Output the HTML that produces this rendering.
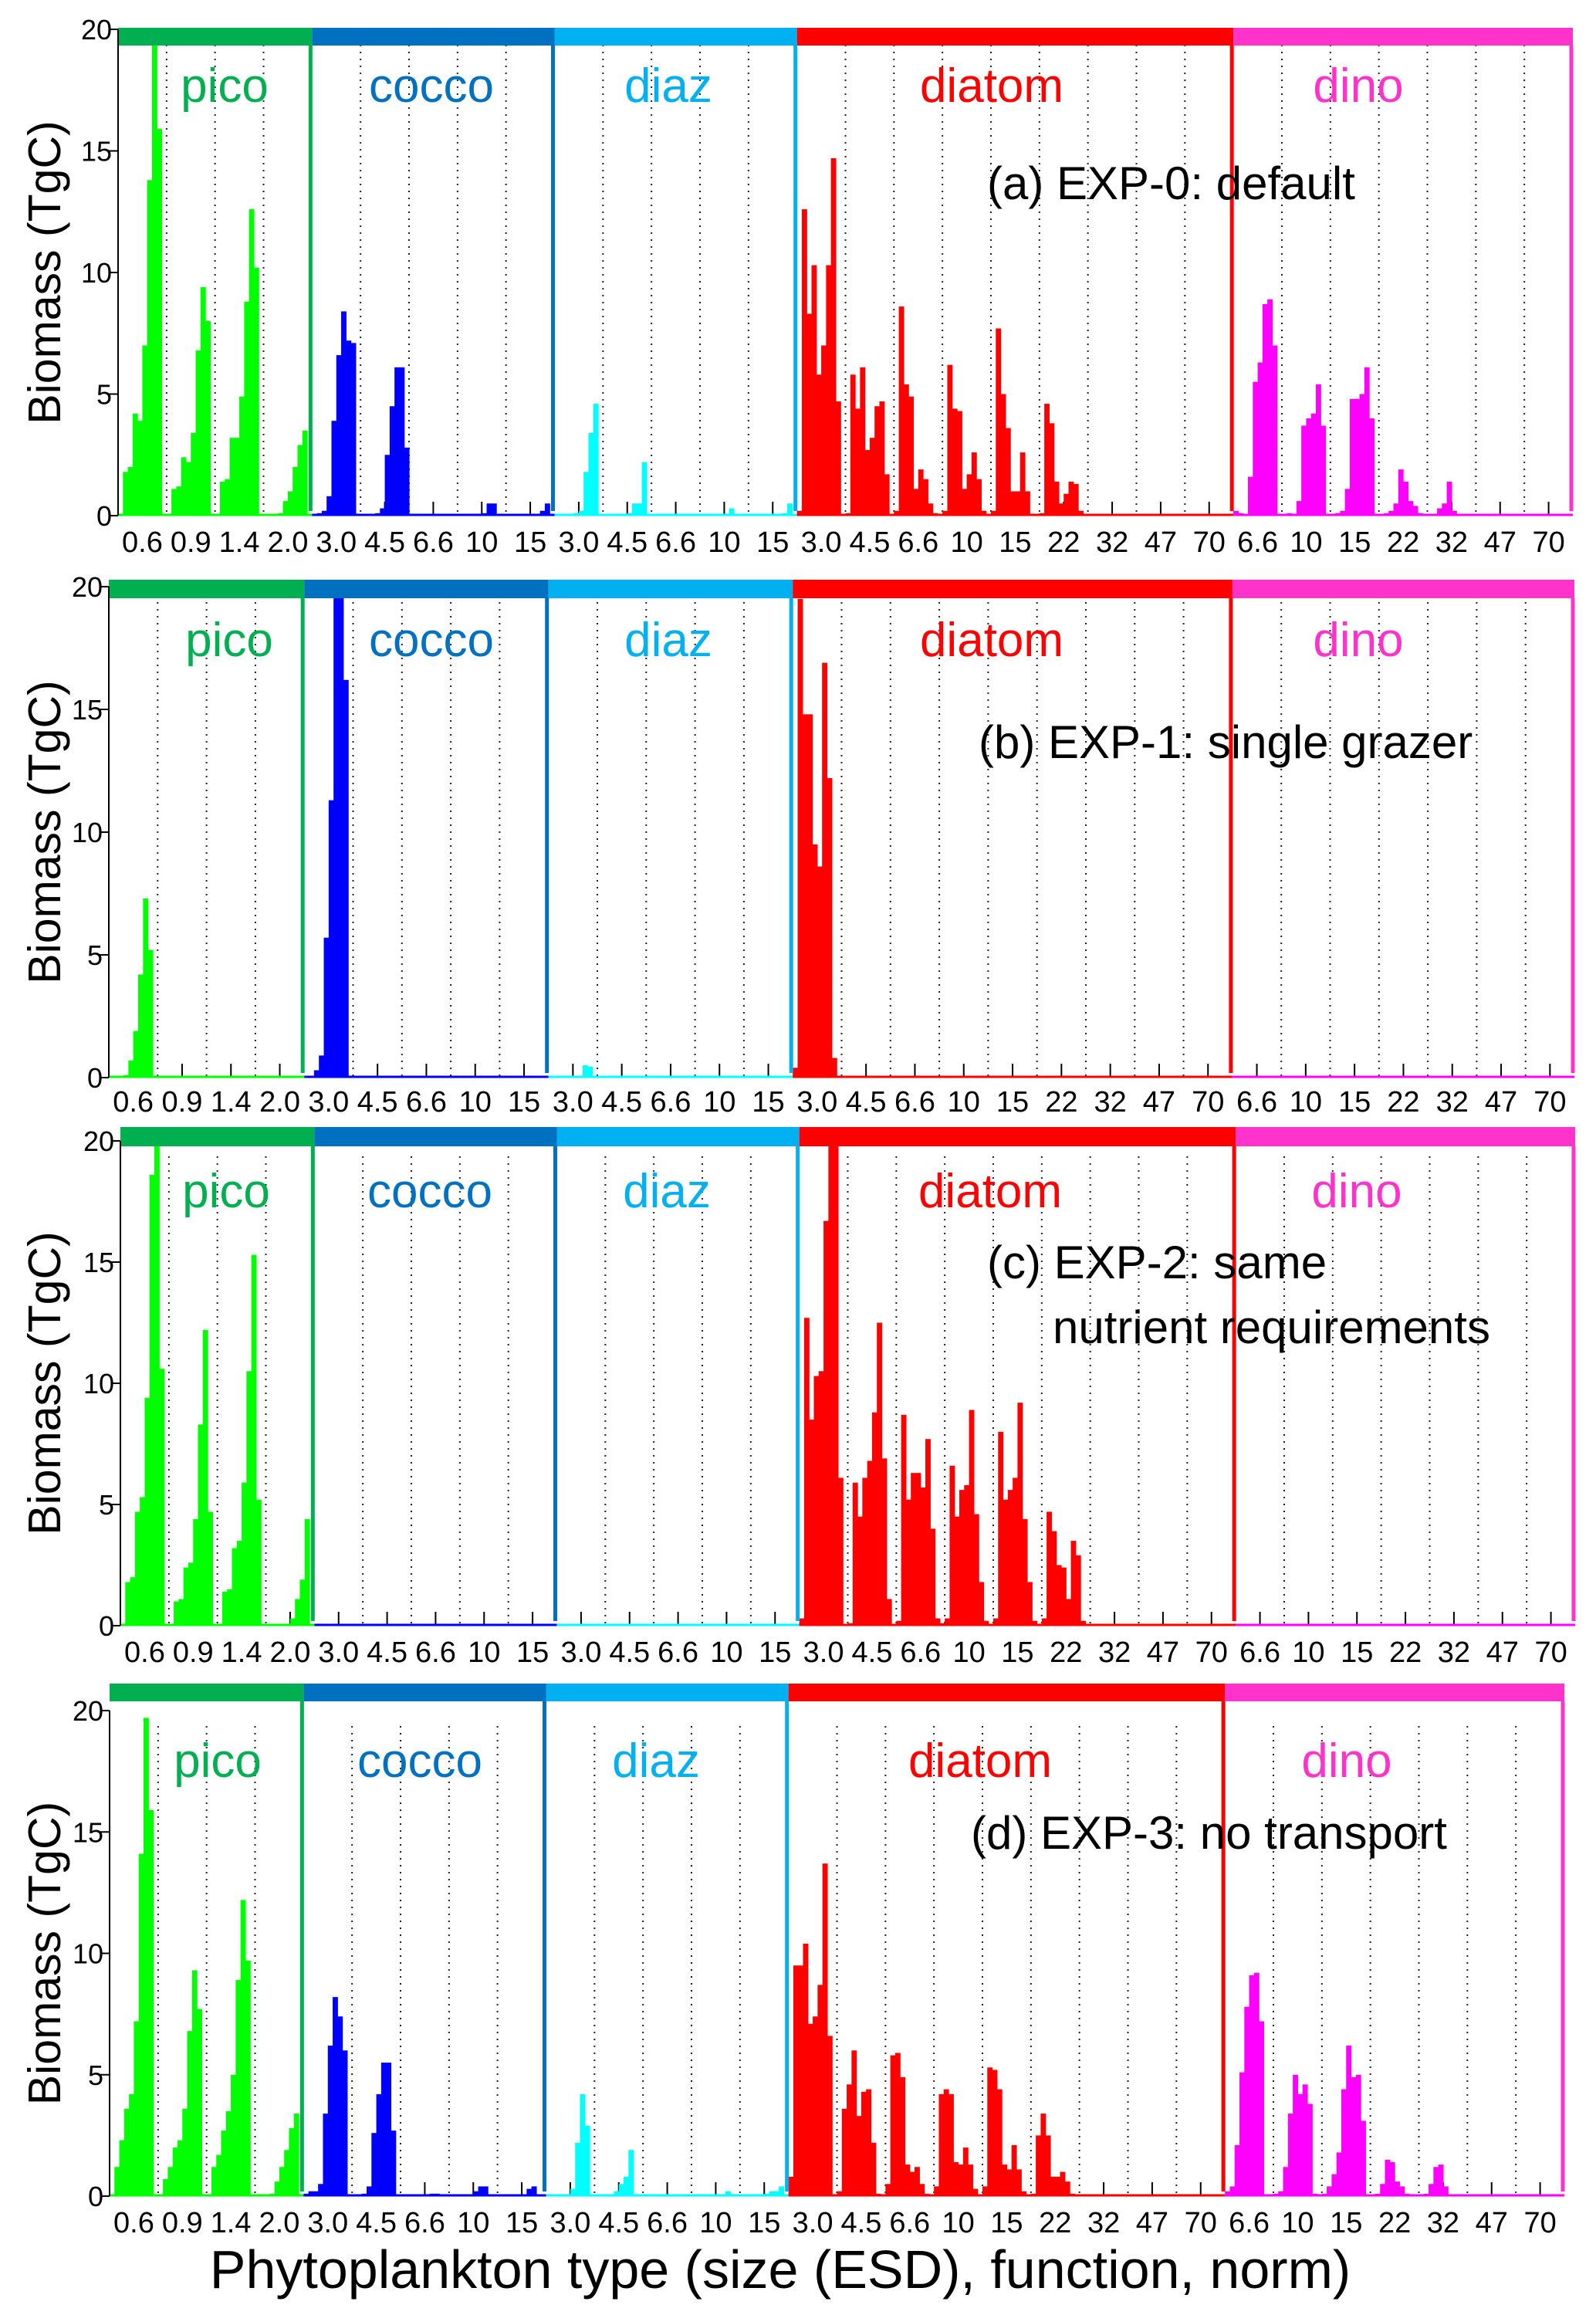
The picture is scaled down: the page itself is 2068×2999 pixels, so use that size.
<!DOCTYPE html>
<html><head><meta charset="utf-8">
<style>
html,body{margin:0;padding:0;background:#fff;}
svg{display:block;}
text{font-family:"Liberation Sans",sans-serif;}
</style></head>
<body>
<svg id="chart" width="2068" height="2999" viewBox="0 0 2068 2999" xmlns="http://www.w3.org/2000/svg"></svg>
<script>
// ---- data ----
const groupNames = ["pico","cocco","diaz","diatom","dino"];
const groupClassCounts = [4,5,5,9,7];
const tickLabels = ["0.6","0.9","1.4","2.0","3.0","4.5","6.6","10","15","3.0","4.5","6.6","10","15","3.0","4.5","6.6","10","15","22","32","47","70","6.6","10","15","22","32","47","70"];
const yTicks = [0,5,10,15,20];
const Z = [0,0,0,0,0,0,0,0,0,0];
const expA = [
[0,1.8,2.0,4.2,3.9,7.0,13.8,19.8,15.9,0],[0,1.1,1.2,2.4,2.2,3.4,6.8,9.4,8.0,0],[0,1.4,1.5,3.2,3.2,4.9,8.8,12.6,10.2,0],[0,0,0.05,0.1,0.6,1.0,2.0,2.9,3.5,0],
[0.05,0.1,0.2,0.8,3.9,6.6,8.4,7.2,7.1,0],[0,0,0,0.1,0.3,2.5,4.5,6.1,6.1,2.8],Z,[0,0,0,0,0,0.1,0.5,0.5,0,0],[0,0,0,0,0,0,0,0.2,0.5,0],
[0,0,0.05,0.05,0.1,0.2,1.8,3.4,4.6,0],[0,0,0,0,0,0.1,0.5,0.5,2.2,0],Z,[0,0,0,0,0,0,0.3,0,0,0],[0,0,0,0,0,0,0,0.1,0.5,0],
[0.2,12.6,8.3,10.3,5.8,7.0,10.3,14.7,4.7,0],[0.1,5.8,4.4,6.1,2.7,3.2,4.5,4.7,1.7,0],[0.2,8.6,5.4,4.9,1.1,1.9,1.5,0.5,0.1,0],[0.2,6.2,4.4,4.3,1.1,1.7,2.6,1.5,0.2,0],[0.2,7.7,5.0,3.6,1.0,1.0,2.6,1.0,0,0],[0.1,4.6,3.8,1.4,0.5,0.9,1.4,1.3,0.2,0],Z,Z,Z,
[0.2,0.1,0,1.6,5.5,6.3,8.7,8.9,7.0,0],[0,0.1,0,0.6,3.7,4.0,4.2,5.4,3.7,0],[0,0.1,0.2,1.1,4.8,4.8,5.0,6.1,4.0,0],[0.05,0.1,0.2,0.5,1.9,1.4,0.6,0.4,0.1,0],[0,0,0.3,0.5,1.4,0.2,0,0,0,0],Z,Z
];
const expB = [
[0,0,0,0.1,0.7,1.9,4.2,7.3,5.2,0],Z,Z,Z,
[0,0,0.3,0.9,5.7,11.3,20,20,16.2,0],Z,Z,Z,Z,
[0,0,0,0,0,0,0,0.5,0.45,0],Z,Z,Z,Z,
[0.4,19.5,14.8,14.8,9.5,8.6,16.9,12.2,0.8,0],Z,Z,Z,Z,Z,Z,Z,Z,
Z,Z,Z,Z,Z,Z,Z
];
const expC = [
[0,1.8,2.0,4.7,5.3,9.4,18.6,20.5,10.6,0],[0,1.0,1.1,2.4,2.6,4.4,8.3,12.2,4.7,0],[0,1.4,1.5,3.2,3.5,5.9,10.5,15.3,5.2,0],[0,0,0,0,0,0.3,1.1,1.9,4.4,0],
Z,Z,Z,Z,Z,
Z,Z,Z,Z,Z,
[0.3,12.7,8.5,10.3,10.5,16.7,20.5,20.5,6.1,0],[0.1,5.9,4.5,6.1,6.8,8.8,12.5,6.9,1.1,0],[0.2,8.7,5.2,6.3,6.3,5.7,7.7,4.0,0.3,0.1],[0.3,6.6,4.5,5.6,5.8,8.9,4.6,1.8,0.2,0],[0.3,8.0,5.2,5.6,6.1,9.2,4.4,1.8,0.2,0],[0.3,4.7,3.9,2.5,2.4,1.1,3.5,2.9,0.2,0],Z,Z,Z,
Z,Z,Z,Z,Z,Z,Z
];
const expD = [
[0,1.2,2.3,3.6,4.2,7.2,14.1,19.7,15.9,0],[0,0.7,1.2,2.0,2.3,3.6,6.8,9.3,7.7,0],[0,1.2,1.7,2.7,3.5,5.0,8.9,12.2,9.7,0],[0,0,0,0.1,0.6,1.2,1.9,2.8,3.4,0],
[0.1,0.2,0.2,0.5,3.4,6.2,8.2,7.4,6.0,0],[0,0,0.1,0.4,2.6,4.2,5.5,5.5,2.7,0],[0,0,0,0,0,0,0.1,0.1,0,0],[0,0,0,0,0,0.2,0.4,0.4,0,0],[0,0,0,0,0,0,0.3,0.4,0,0],
[0,0,0,0,0,0.3,2.2,4.2,2.9,0],[0,0,0,0,0.2,0.5,0.8,1.9,0,0],Z,[0,0,0,0,0,0,0,0.2,0,0],[0,0,0,0,0,0.1,0.2,0.2,0.4,0],
[0.8,9.5,9.5,10.4,7.1,7.4,8.7,13.7,6.6,0],[0.2,3.6,4.6,6.0,3.3,4.3,4.4,2.2,0.1,0],[0.5,5.8,5.9,4.9,1.3,1.0,1.2,0.5,0.1,0],[0.4,4.2,4.4,4.2,1.4,1.3,2.0,1.3,0.3,0],[0.4,5.3,5.2,4.4,1.3,1.1,2.1,1.1,0.2,0],[0.1,2.5,3.4,2.5,0.8,0.8,1.0,0.6,0.1,0],Z,Z,Z,
[0.2,0.4,2.1,5.1,7.8,9.1,9.2,7.2,0,0],[0.1,0.2,1.2,3.4,5.0,4.2,4.6,3.8,0.1,0],[0.1,0.4,0.9,1.8,4.4,6.2,4.9,5.0,3.1,0],[0,0.1,0.5,1.5,1.4,0.6,0.4,0.1,0,0],[0,0.1,0.5,1.2,1.3,0.4,0,0,0,0],Z,Z
];
const panelTitles = [["(a) EXP-0: default"],["(b) EXP-1: single grazer"],["(c) EXP-2: same","nutrient requirements"],["(d) EXP-3: no transport"]];

// ---- styling / layout (not data) ----
const barColors = ["#00ff00","#0000ff","#00ffff","#ff0000","#ff00ff"];
const groupColors = ["#00b050","#0070c0","#00b0f0","#ff0000","#ff33cc"];
const panels = [
  {data:expA,x0:153,x1:2038,yTop:38,yBot:668,barTop:36,barBot:59,tickY:715,labY:132,labX:[291,559,866,1285,1760],titleX:[1279],titleY:[258]},
  {data:expB,x0:141,x1:2040,yTop:760,yBot:1396,barTop:751,barBot:775,tickY:1440,labY:850,labX:[297,559,866,1285,1760],titleX:[1268],titleY:[982]},
  {data:expC,x0:156,x1:2041,yTop:1478,yBot:2106,barTop:1460,barBot:1485,tickY:2153,labY:1564,labX:[293,557,864,1283,1758],titleX:[1279,1364],titleY:[1656,1740]},
  {data:expD,x0:142,x1:2027,yTop:2216,yBot:2845,barTop:2181,barBot:2204,tickY:2892,labY:2302,labX:[282,544,850,1270,1745],titleX:[1258],titleY:[2395]}
];
const NS="http://www.w3.org/2000/svg";
const svg=document.getElementById('chart');
function mk(tag,attrs,parent){const e=document.createElementNS(NS,tag);for(const k in attrs)e.setAttribute(k,attrs[k]);(parent||svg).appendChild(e);return e;}

panels.forEach((p,pi)=>{
  const g=mk('g',{});
  
  
  const nClass=30, cw=(p.x1-p.x0)/nClass, sw=cw/10;
  const yS=v=>p.yBot-(Math.min(v,20.4))/20*(p.yBot-p.yTop);
  const xS=(k,j)=>p.x0+k*cw+j*sw;
  const starts=[];let acc=0;groupClassCounts.forEach(c=>{starts.push(acc);acc+=c;});
  for(let k=1;k<nClass;k++){
    if(starts.includes(k))continue;
    const l=mk('line',{x1:xS(k,0),x2:xS(k,0),y1:p.yTop+20,y2:p.yBot,stroke:'#222','stroke-width':2,'stroke-dasharray':'2,7'},g);
    
    
  }
  for(let k=0;k<nClass;k++){
    const cx=xS(k,5);
    const t=mk('line',{x1:cx,x2:cx,y1:p.yBot,y2:p.yBot-18,stroke:'#000','stroke-width':2},g);
    
    
    const tl=mk('text',{x:cx,y:p.tickY,'text-anchor':'middle','font-size':38,fill:'#000'},g);
    tl.textContent=tickLabels[k];
    
    
  }
  groupClassCounts.forEach((c,gi)=>{
    const bl=mk('line',{x1:xS(starts[gi],0),x2:xS(starts[gi]+c,0),y1:p.yBot-1,y2:p.yBot-1,stroke:barColors[gi],'stroke-width':3},g);
    
    
  });
  p.data.forEach((cls,k)=>{
    let gi=0;for(let i=0;i<starts.length;i++)if(k>=starts[i])gi=i;
    cls.forEach((v,j)=>{
      if(v<=0)return;
      const y=yS(v);
      const r=mk('rect',{x:xS(k,j),y:y,width:sw+0.6,height:p.yBot-y,fill:barColors[gi]},g);
      
      
    });
  });
  groupClassCounts.forEach((c,gi)=>{
    const xa=xS(starts[gi],0), xb=xS(starts[gi]+c,0);
    const r=mk('rect',{x:xa,y:p.barTop,width:xb-xa,height:p.barBot-p.barTop,fill:groupColors[gi]},g);
    
    
    const l=mk('line',{x1:xb-2,x2:xb-2,y1:p.barBot,y2:p.yBot-6,stroke:groupColors[gi],'stroke-width':5},g);
    
    
    const tx=mk('text',{x:p.labX[gi],y:p.labY,'text-anchor':'middle','font-size':62,fill:groupColors[gi]},g);
    tx.textContent=groupNames[gi];
    
    
  });
  const ax=mk('line',{x1:p.x0,x2:p.x0,y1:p.yTop,y2:p.yBot,stroke:'#000','stroke-width':2},g);
  
  
  yTicks.forEach(v=>{
    const y=yS(v);
    const t=mk('line',{x1:p.x0-12,x2:p.x0,y1:y,y2:y,stroke:'#000','stroke-width':2},g);
    
    
    const tl=mk('text',{x:p.x0-8,y:y+13,'text-anchor':'end','font-size':36,fill:'#000'},g);
    tl.textContent=v;
    
    
  });
  const cy=(p.yTop+p.yBot)/2;
  const yl=mk('text',{x:0,y:0,'text-anchor':'middle','font-size':59,fill:'#000',transform:`translate(78,${cy}) rotate(-90)`},g);
  yl.textContent='Biomass (TgC)';
  
  
  panelTitles[pi].forEach((s,i)=>{
    const tt=mk('text',{x:p.titleX[i],y:p.titleY[i],'font-size':60,fill:'#000'},g);
    tt.textContent=s;
    
    
  });
});
const xl=mk('text',{x:1011,y:2964,'text-anchor':'middle','font-size':70,fill:'#000'});
xl.textContent='Phytoplankton type (size (ESD), function, norm)';


</script>
</body></html>
